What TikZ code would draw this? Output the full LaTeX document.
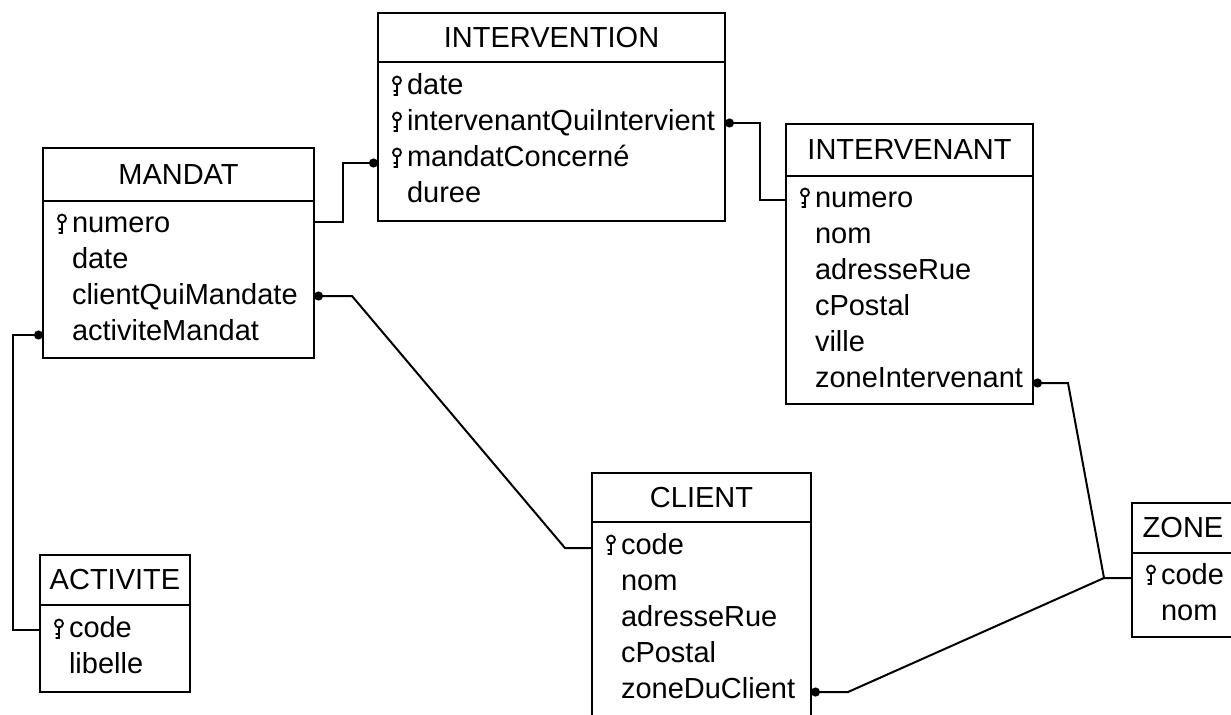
\documentclass[tikz,border=0pt]{standalone}
\usepackage{fontspec}
\setmainfont{Liberation Sans}
\usetikzlibrary{calc,positioning,arrows.meta}

\tikzset{pkey/.pic={\draw[line width=0.9pt] (0,-14.5) circle (4) (0,-10.5) -- (0,0) -- (-3.5,0) (0,-4) -- (-3.5,-4);}}

\begin{document}
\begin{tikzpicture}[x=0.5pt,y=-0.5pt,every node/.style={outer sep=0pt,font=\fontsize{14.5}{18}\selectfont}]
\tikzstyle{thead}=[draw,line width=1pt,anchor=north west,inner sep=0pt]
\tikzstyle{tbody}=[draw,line width=1pt,inner xsep=14.5pt,inner ysep=0pt,align=left,
  execute at begin node=\strut,execute at end node=\strut]
\tikzstyle{fk}=[line width=1pt,{Circle[length=4.5pt]}-]

\useasboundingbox (0,0) rectangle (1231,714);
\clip (0,0) rectangle (1231,714);

% tables
\node (intervh) at (378,13) [thead,minimum width=173.5pt,minimum height=24.5pt] {INTERVENTION};
\node (intervb) [tbody,below=0pt of intervh,text width=144.5pt,minimum height=79.5pt]
  {date\\intervenantQuiIntervient\\mandatConcerné\\duree};

\node (mandath) at (43,148) [thead,minimum width=135.5pt,minimum height=26.5pt] {MANDAT};
\node (mandatb) [tbody,below=0pt of mandath,text width=106.5pt,minimum height=78.5pt]
  {numero\\date\\clientQuiMandate\\activiteMandat};

\node (intvth) at (786,124) [thead,minimum width=123.5pt,minimum height=26pt] {INTERVENANT};
\node (intvtb) [tbody,below=0pt of intvth,text width=94.5pt,minimum height=114pt]
  {numero\\nom\\adresseRue\\cPostal\\ville\\zoneIntervenant};

\node (clienth) at (592,473) [thead,minimum width=109.5pt,minimum height=24.5pt] {CLIENT};
\node (clientb) [tbody,below=0pt of clienth,text width=80.5pt,minimum height=97pt]
  {code\\nom\\adresseRue\\cPostal\\zoneDuClient};

\node (activh) at (40,555) [thead,minimum width=75pt,minimum height=25pt] {ACTIVITE};
\node (activb) [tbody,below=0pt of activh,text width=46pt,minimum height=43.5pt]
  {code\\libelle};

\node (zoneh) at (1132,503) [thead,minimum width=51pt,minimum height=25pt] {ZONE};
\node (zoneb) [tbody,below=0pt of zoneh,text width=22pt,minimum height=42pt]
  {code\\nom};

% primary keys
\pic at ($(intervb.north west)+(19,33)$) {pkey};
\pic at ($(intervb.north west)+(19,69)$) {pkey};
\pic at ($(intervb.north west)+(19,105)$) {pkey};
\pic at ($(mandatb.north west)+(19,32)$) {pkey};
\pic at ($(intvtb.north west)+(19,31)$) {pkey};
\pic at ($(clientb.north west)+(19,32)$) {pkey};
\pic at ($(activb.north west)+(19,33)$) {pkey};
\pic at ($(zoneb.north west)+(19,31)$) {pkey};

% links
\coordinate (zj) at ($(zoneb.north west)+(-28,25)$);
\draw [fk] ($(intervb.north west)+(0,101)$) -- ++(-35,0) |- ($(mandatb.north east)+(0,21)$);
\draw [fk] ($(intervb.north east)+(0,61)$) -- ++(35,0) |- ($(intvtb.north west)+(0,24)$);
\draw [fk] ($(mandatb.north east)+(0,95)$) -- ++(38,0) -- ($(clientb.north west)+(-27,26)$) -- ++(27,0);
\draw [fk] ($(mandatb.north west)+(0,134)$) -- ++(-30,0) |- ($(activb.north west)+(0,25)$);
\draw [fk] ($(intvtb.north east)+(0,207)$) -- ++(35,0) -- (zj) -- ($(zoneb.north west)+(0,25)$);
\draw [fk] ($(clientb.north east)+(0,170)$) -- ++(37,0) -- (zj);

\end{tikzpicture}
\end{document}
